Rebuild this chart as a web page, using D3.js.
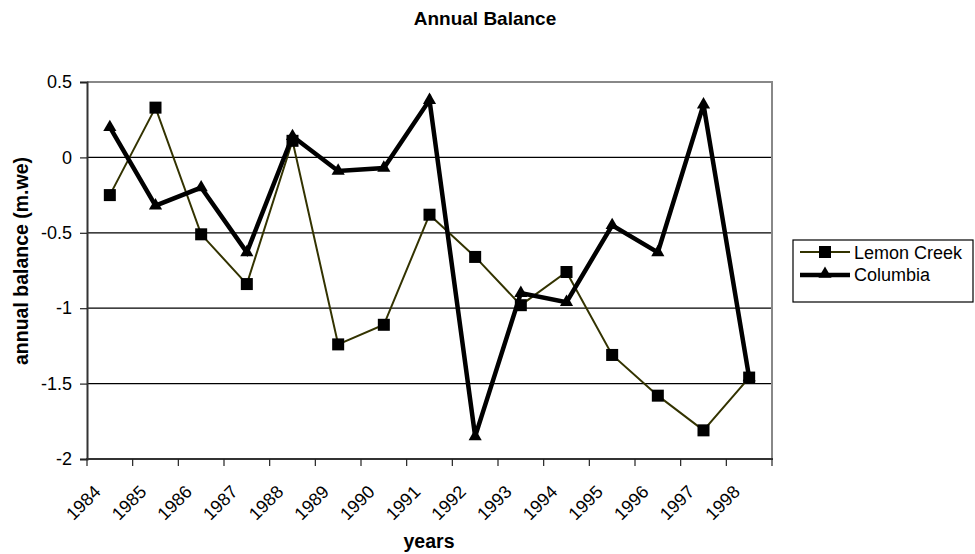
<!DOCTYPE html>
<html><head><meta charset="utf-8">
<script src="https://cdn.jsdelivr.net/npm/d3@7"></script>
<style>body{margin:0;background:#fff}svg{font-family:"Liberation Sans",Arial,sans-serif}</style>
</head><body><svg id="c" width="975" height="554"></svg>
<script>
const years = ["1984","1985","1986","1987","1988","1989","1990","1991","1992","1993","1994","1995","1996","1997","1998"];
const lemonCreek = [-0.25,0.33,-0.51,-0.84,0.11,-1.24,-1.11,-0.38,-0.66,-0.98,-0.76,-1.31,-1.58,-1.81,-1.46];
const columbia = [0.2,-0.32,-0.2,-0.63,0.14,-0.09,-0.07,0.38,-1.85,-0.9,-0.96,-0.45,-0.63,0.35,-1.46];
const yTicks = [0.5,0,-0.5,-1,-1.5,-2];
const yTickLabels = ["0.5","0","-0.5","-1","-1.5","-2"];

const svg = d3.select("#c");
const L=87, R=772, T=82, B=459;
const x = d3.scaleBand().domain(years).range([L,R]);
const y = d3.scaleLinear().domain([-2,0.5]).range([B,T]);

// title
svg.append("text").attr("x",485).attr("y",25).attr("text-anchor","middle")
  .attr("font-size",19).attr("font-weight","bold").text("Annual Balance");

// gridlines
svg.append("g").selectAll("line").data(yTicks.slice(1,5)).join("line")
  .attr("x1",L).attr("x2",R).attr("y1",d=>y(d)).attr("y2",d=>y(d))
  .attr("stroke","#000").attr("stroke-width",1.2);
// plot border top/right
svg.append("path").attr("d",`M${L},${T}H${R}V${B}`).attr("fill","none").attr("stroke","#888").attr("stroke-width",2);

// y axis
const yAxis = d3.axisLeft(y).tickValues(yTicks).tickFormat((d,i)=>yTickLabels[i]).tickSize(7).tickPadding(8);
const gy = svg.append("g").attr("transform",`translate(${L},0)`).call(yAxis);
gy.select(".domain").attr("stroke","#333").attr("stroke-width",2);
gy.selectAll(".tick line").attr("stroke","#222").attr("stroke-width",1.2);
gy.selectAll("text").attr("font-size",18).attr("font-family","Liberation Sans,Arial,sans-serif").attr("fill","#000");

// x axis
const gx = svg.append("g").attr("transform",`translate(0,${B})`);
gx.append("line").attr("x1",L-1).attr("x2",R+1).attr("stroke","#333").attr("stroke-width",2);
const bounds = years.map(d=>x(d)).concat([R]);
gx.selectAll(".tk").data(bounds).join("line").attr("class","tk")
  .attr("x1",d=>d).attr("x2",d=>d).attr("y1",0).attr("y2",7).attr("stroke","#222").attr("stroke-width",1.2);
gx.selectAll(".lbl").data(years).join("text").attr("class","lbl")
  .attr("transform",d=>`translate(${x(d)+x.bandwidth()/2-8},${34}) rotate(-45)`)
  .attr("text-anchor","end").attr("font-size",18).text(d=>d);

// axis titles
svg.append("text").attr("x",429).attr("y",548).attr("text-anchor","middle")
  .attr("font-size",19.5).attr("font-weight","bold").text("years");
svg.append("text").attr("transform",`translate(28,261) rotate(-90)`).attr("text-anchor","middle")
  .attr("font-size",19.5).attr("font-weight","bold").text("annual balance (m.we)");

const cx = d=>x(d)+x.bandwidth()/2;
const line = d3.line().x((d,i)=>cx(years[i])).y(d=>y(d));
const tri = d3.symbol().type(d3.symbolTriangle).size(75);

// Lemon Creek
svg.append("path").datum(lemonCreek).attr("d",line).attr("fill","none").attr("stroke","#333300").attr("stroke-width",2);
// Columbia
svg.append("path").datum(columbia).attr("d",line).attr("fill","none").attr("stroke","#000").attr("stroke-width",4.5).attr("stroke-linejoin","miter");
svg.append("g").selectAll("path").data(columbia).join("path")
  .attr("transform",(d,i)=>`translate(${cx(years[i])},${y(d)})`).attr("d",tri).attr("fill","#000");
svg.append("g").selectAll("rect").data(lemonCreek).join("rect")
  .attr("x",(d,i)=>cx(years[i])-6).attr("y",d=>y(d)-6).attr("width",12).attr("height",12).attr("fill","#000");

// legend
const lg = svg.append("g");
lg.append("rect").attr("x",793).attr("y",240).attr("width",180).attr("height",62).attr("fill","#fff").attr("stroke","#000").attr("stroke-width",1.2);
lg.append("line").attr("x1",800).attr("x2",850).attr("y1",252).attr("y2",252).attr("stroke","#333300").attr("stroke-width",2);
lg.append("rect").attr("x",819).attr("y",246).attr("width",12).attr("height",12).attr("fill","#000");
lg.append("text").attr("x",854).attr("y",258.5).attr("font-size",18).text("Lemon Creek");
lg.append("line").attr("x1",800).attr("x2",850).attr("y1",275).attr("y2",275).attr("stroke","#000").attr("stroke-width",4.5);
lg.append("path").attr("transform","translate(825,274)").attr("d",tri).attr("fill","#000");
lg.append("text").attr("x",854).attr("y",281).attr("font-size",18).text("Columbia");
</script></body></html>
